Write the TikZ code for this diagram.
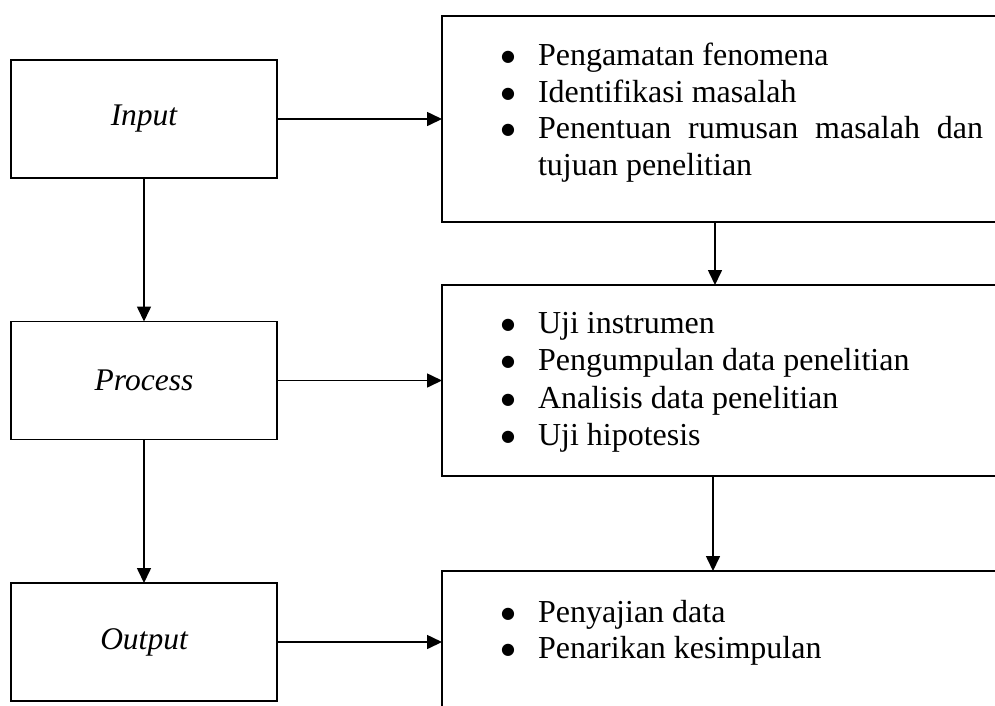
\documentclass[tikz,border=0pt]{standalone}
\usepackage{fontspec}
\setmainfont{Liberation Serif}
\newfontfamily\bulfont{DejaVu Sans}
\usetikzlibrary{arrows.meta}
\begin{document}
\begin{tikzpicture}[x=1pt,y=-1pt,
  every node/.style={inner sep=0pt,outer sep=0pt},
  lbox/.style={draw,line width=1.6pt,minimum width=266pt,minimum height=118pt,font=\fontsize{31.5}{37}\selectfont\itshape},
  rbox/.style={draw,line width=1.6pt,anchor=north west,minimum width=570pt},
  txt/.style={anchor=base west,font=\fontsize{32}{37}\selectfont},
  bul/.style={anchor=base,font=\bulfont\fontsize{16}{19}\selectfont},
  arr/.style={line width=1.6pt,-{Triangle[length=15pt,width=14pt]}}]
\useasboundingbox (0,0) rectangle (995,705);
\clip (0,0) rectangle (995,705);
% left boxes
\node[lbox] (in) at (144,119) {Input};
\node[lbox] (pr) at (144,380.5) {Process};
\node[lbox] (out) at (144,642) {Output};
% right boxes
\node[rbox,minimum height=206pt] (r1) at (442,16) {};
\node[rbox,minimum height=191pt] (r2) at (442,285) {};
\node[rbox,minimum height=144pt] (r3) at (442,571) {};
% texts box 1
\node[bul] (b11) at (508,61) {●};
\node[txt] (t11) at (538,65) {Pengamatan fenomena};
\node[bul] (b12) at (508,98) {●};
\node[txt] (t12) at (538,102) {Identifikasi masalah};
\node[bul] (b13) at (508,134) {●};
\node[txt] (t13) at (538,138) {\hbox to 445pt{Penentuan\hfill rumusan\hfill masalah\hfill dan}};
\node[txt] (t14) at (538,175) {tujuan penelitian};
% texts box 2
\node[bul] (b21) at (508,329) {●};
\node[txt] (t21) at (538,333) {Uji instrumen};
\node[bul] (b22) at (508,366) {●};
\node[txt] (t22) at (538,370) {Pengumpulan data penelitian};
\node[bul] (b23) at (508,404) {●};
\node[txt] (t23) at (538,408) {Analisis data penelitian};
\node[bul] (b24) at (508,441) {●};
\node[txt] (t24) at (538,445) {Uji hipotesis};
% texts box 3
\node[bul] (b31) at (508,618) {●};
\node[txt] (t31) at (538,622) {Penyajian data};
\node[bul] (b32) at (508,654) {●};
\node[txt] (t32) at (538,658) {Penarikan kesimpulan};
% arrows
\draw[arr] (in.east) -- (in.east -| r1.west);
\draw[arr] (pr.east) -- (pr.east -| r2.west);
\draw[arr] (out.east) -- (out.east -| r3.west);
\draw[arr] (in.south) -- (pr.north);
\draw[arr] (pr.south) -- (out.north);
\draw[arr] ([xshift=273pt]r1.south west) -- ([xshift=273pt]r2.north west);
\draw[arr] ([xshift=271pt]r2.south west) -- ([xshift=271pt]r3.north west);
\end{tikzpicture}
\end{document}
